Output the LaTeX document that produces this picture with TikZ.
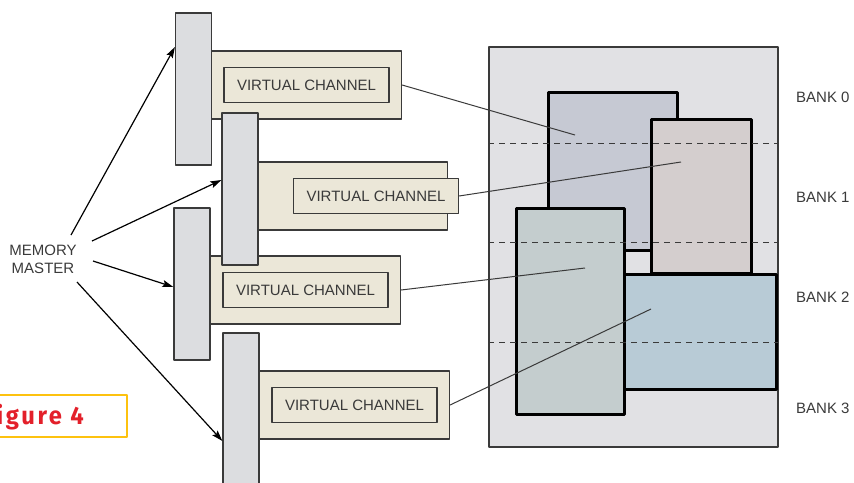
\documentclass[tikz,border=0pt]{standalone}
\usepackage{fontspec}
\setmainfont{Liberation Sans}
\newfontfamily\figfont[FakeStretch=0.95,LetterSpace=10.5]{Fira Sans}
\usetikzlibrary{arrows.meta}
\definecolor{ink}{HTML}{3A3A3A}
\definecolor{portfill}{HTML}{DCDDE0}
\definecolor{vcfill}{HTML}{EBE7D8}
\definecolor{arrayfill}{HTML}{E1E1E4}
\definecolor{bankA}{HTML}{C6C9D3}
\definecolor{bankB}{HTML}{D4CECE}
\definecolor{bankC}{HTML}{C4CDCE}
\definecolor{bankD}{HTML}{B8CBD6}
\definecolor{figred}{HTML}{E3202A}
\definecolor{figyellow}{HTML}{FDC20F}
\begin{document}
\begin{tikzpicture}[x=1pt, y=-1pt, line join=round, >={Stealth[length=11pt,width=7pt,inset=2pt]}]
	\tikzset{txt/.style={font=\fontsize{15}{17.5}\selectfont, text=ink},
		port/.style={draw=ink, line width=1.2pt, fill=portfill, inner sep=0pt, minimum width=36pt, minimum height=152pt},
		vcbox/.style={draw=ink, line width=1.2pt, fill=vcfill, inner sep=0pt, minimum width=190pt, minimum height=68pt},
		vclabel/.style={txt, draw=ink, line width=1.2pt, fill=vcfill, inner sep=0pt, minimum width=165pt, minimum height=35pt},
		bank/.style={draw=black, line width=3pt, inner sep=0pt}}
	\clip (0,0) rectangle (854,482);
	% channels: buffer box, port bar, label
	\foreach \i/\vx/\vy in {1/306.5/85, 2/352.5/196, 3/305.5/290, 4/354.5/405}
	\node[vcbox] (vc\i) at (\vx,\vy) {};
	\foreach \i/\px/\py in {1/193.5/89, 2/240/189, 3/192/284, 4/241/409}
	\node[port] (port\i) at (\px,\py) {};
	\foreach \i/\dx in {1/0, 2/23.5, 3/0, 4/0}
	\node[vclabel] (vclbl\i) at ([xshift=\dx pt]vc\i) {VIRTUAL CHANNEL};
	% memory array and banks
	\node[draw=ink, line width=2pt, fill=arrayfill, inner sep=0pt, minimum width=289pt, minimum height=400pt] (array) at (633.5,247) {};
	\node[bank, fill=bankA, minimum width=129pt, minimum height=158pt] (bank0) at (612.5,171) {};
	\node[bank, fill=bankB, minimum width=100pt, minimum height=154pt] (bank1) at (701,196) {};
	\node[bank, fill=bankC, minimum width=108pt, minimum height=206pt] (bank2) at (570,311) {};
	\node[bank, fill=bankD, minimum width=152pt, minimum height=115pt] (bank3) at (700,331.5) {};
	\foreach \y in {143,242,342}
	\draw[ink, line width=1pt, dash pattern=on 6pt off 5pt] (array.west |- 0,\y) -- (array.east |- 0,\y);
	\foreach \b/\y in {0/97, 1/197, 2/297, 3/408}
	\node[txt, anchor=west, inner sep=0pt] (banktxt\b) at (796,\y) {BANK \b};
	\coordinate (hit0) at (575,135);
	\coordinate (hit1) at (681,162);
	\coordinate (hit2) at (585,268);
	\coordinate (hit3) at (651,309);
	\draw[ink, line width=1pt] (vc1.east) -- (hit0);
	\draw[ink, line width=1pt] (vclbl2.east) -- (hit1);
	\draw[ink, line width=1pt] (vc3.east) -- (hit2);
	\draw[ink, line width=1pt] (vc4.east) -- (hit3);
	% master and its arrows
	\node[txt, align=center] (master) at (43,259.5) {MEMORY\\MASTER};
	\draw[->, line width=1.2pt] ([shift={(28,-24.5)}]master.center) -- (port1.west |- 0,47);
	\draw[->, line width=1.2pt] ([shift={(49,-18.5)}]master.center) -- (port2.west |- 0,180);
	\draw[->, line width=1.2pt] ([shift={(50,1.5)}]master.center) -- (port3.west |- 0,287);
	\draw[->, line width=1.2pt] ([shift={(34,22.5)}]master.center) -- (port4.west |- 0,441);
	\node[draw=figyellow, line width=2.5pt, text=figred, font=\figfont\bfseries\fontsize{25}{25}\selectfont, inner xsep=43pt, minimum height=42pt, text height=17pt, text depth=0pt, anchor=east] (figtag) at (128,416) {Figure 4};
\end{tikzpicture}
\end{document}
